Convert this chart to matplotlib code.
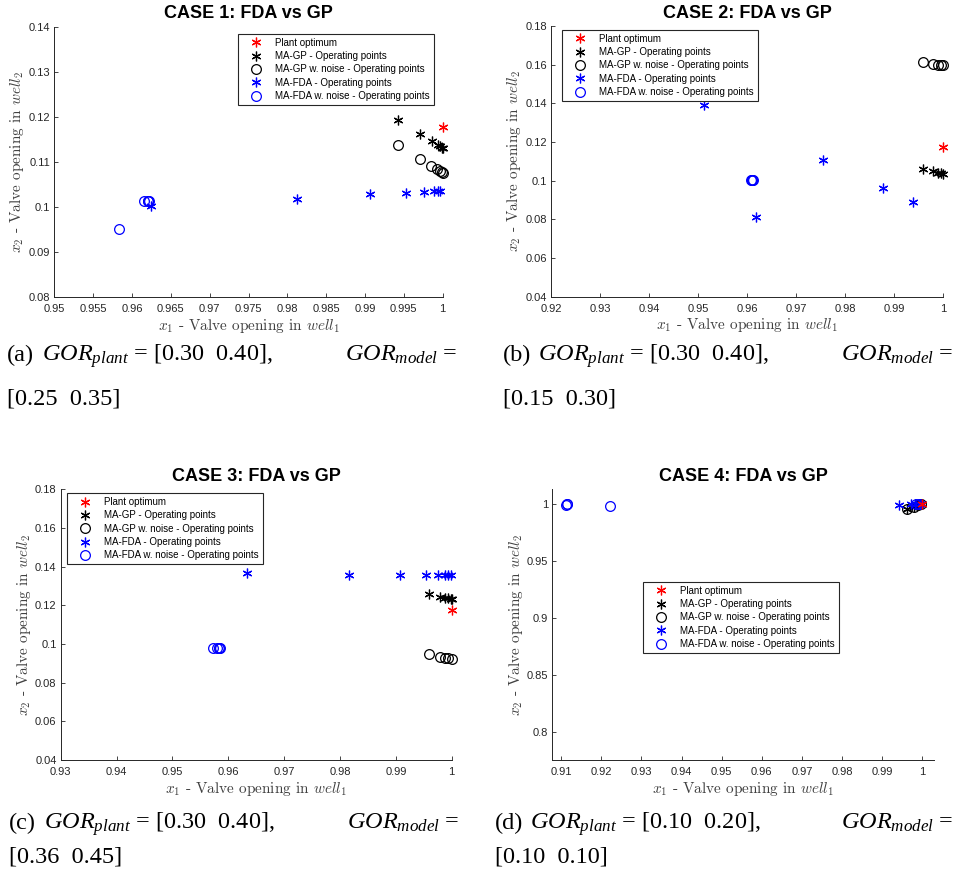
import matplotlib
matplotlib.use('Agg')
import matplotlib.pyplot as plt
from matplotlib.lines import Line2D

plt.rcParams['mathtext.rm'] = 'Liberation Serif'
plt.rcParams['mathtext.it'] = 'Liberation Serif:italic'
plt.rcParams['mathtext.bf'] = 'Liberation Serif:bold'

# ---- data ----
# case 1
c1_plant = ([1.0], [0.1177])
c1_gp_x = [0.9942, 0.9971, 0.9986, 0.9994, 0.9997, 0.9999, 1.0]
c1_gp_y = [0.1193, 0.1162, 0.1147, 0.1138, 0.1135, 0.1132, 0.1131]
c1_gpn_x = [0.9942, 0.9971, 0.9985, 0.9993, 0.9997, 0.9999, 1.0]
c1_gpn_y = [0.1138, 0.1107, 0.1092, 0.1084, 0.1080, 0.1077, 0.1076]
c1_fda_x = [0.9625, 0.9812, 0.9906, 0.9953, 0.9976, 0.9989, 0.9994, 0.9997]
c1_fda_y = [0.1003, 0.1019, 0.1028, 0.1032, 0.1034, 0.1035, 0.1035, 0.1036]
c1_fdan_x = [0.9583, 0.9615, 0.9620, 0.9622, 0.9621]
c1_fdan_y = [0.0952, 0.1013, 0.1013, 0.1014, 0.1013]

# case 2
c2_plant = ([1.0], [0.1176])
c2_gp_x = [0.9960, 0.9980, 0.9990, 0.9995, 0.9999]
c2_gp_y = [0.1059, 0.1049, 0.1042, 0.1039, 0.1037]
c2_gpn_x = [0.9960, 0.9980, 0.9989, 0.9995, 1.0]
c2_gpn_y = [0.1612, 0.1604, 0.1599, 0.1597, 0.1596]
c2_fda_x = [0.9512, 0.9756, 0.9878, 0.9939, 0.9618]
c2_fda_y = [0.1393, 0.1106, 0.0964, 0.0892, 0.0814]
c2_fdan_x = [0.9609, 0.9611, 0.9610, 0.9612, 0.9610]
c2_fdan_y = [0.1003, 0.1006, 0.1001, 0.1004, 0.1004]

# case 3
c3_plant = ([1.0], [0.1176])
c3_gp_x = [0.9960, 0.9979, 0.9988, 0.9994, 0.9998, 1.0]
c3_gp_y = [0.1259, 0.1245, 0.1240, 0.1237, 0.1233, 0.1233]
c3_gpn_x = [0.9960, 0.9979, 0.9988, 0.9994, 1.0]
c3_gpn_y = [0.0949, 0.0935, 0.0929, 0.0926, 0.0924]
c3_fda_x = [0.9634, 0.9817, 0.9907, 0.9954, 0.9976, 0.9988, 0.9994, 0.9998]
c3_fda_y = [0.1369, 0.1359, 0.1356, 0.1355, 0.1355, 0.1355, 0.1355, 0.1355]
c3_fdan_x = [0.9573, 0.9579, 0.9583, 0.9585, 0.9584]
c3_fdan_y = [0.0981, 0.0981, 0.0981, 0.0981, 0.0980]

# case 4
c4_plant = ([1.0], [1.0])
c4_gp_x = [0.9961, 0.9979, 0.9989, 0.9996, 1.0]
c4_gp_y = [0.9953, 0.9977, 0.9988, 0.9997, 1.0]
c4_gpn_x = [0.9961, 0.9979, 0.9989, 0.9996]
c4_gpn_y = [0.9953, 0.9977, 0.9988, 0.9997]
c4_fda_x = [0.9941, 0.9971, 0.9983, 0.9991, 0.9996]
c4_fda_y = [0.9994, 1.0, 1.0, 1.0, 1.0]
c4_fdan_x = [0.9113, 0.9115, 0.9114, 0.9223, 0.9985, 0.9993]
c4_fdan_y = [0.9996, 0.9998, 0.9997, 0.9980, 0.9997, 0.9999]

titles = ['CASE 1: FDA vs GP', 'CASE 2: FDA vs GP', 'CASE 3: FDA vs GP', 'CASE 4: FDA vs GP']
labels = ['Plant optimum', 'MA-GP - Operating points', 'MA-GP w. noise - Operating points',
          'MA-FDA - Operating points', 'MA-FDA w. noise - Operating points']
xlims = [(0.95, 1.0), (0.92, 1.0), (0.93, 1.0), (0.9078, 1.003)]
ylims = [(0.08, 0.14), (0.04, 0.18), (0.04, 0.18), (0.7755, 1.013)]
xticks = [[0.95, 0.955, 0.96, 0.965, 0.97, 0.975, 0.98, 0.985, 0.99, 0.995, 1],
          [0.92, 0.93, 0.94, 0.95, 0.96, 0.97, 0.98, 0.99, 1],
          [0.93, 0.94, 0.95, 0.96, 0.97, 0.98, 0.99, 1],
          [0.91, 0.92, 0.93, 0.94, 0.95, 0.96, 0.97, 0.98, 0.99, 1]]
yticks = [[0.08, 0.09, 0.1, 0.11, 0.12, 0.13, 0.14],
          [0.04, 0.06, 0.08, 0.1, 0.12, 0.14, 0.16, 0.18],
          [0.04, 0.06, 0.08, 0.1, 0.12, 0.14, 0.16, 0.18],
          [0.8, 0.85, 0.9, 0.95, 1]]
captions = [('(a)', '[0.30  0.40],', '[0.25  0.35]'),
            ('(b)', '[0.30  0.40],', '[0.15  0.30]'),
            ('(c)', '[0.30  0.40],', '[0.36  0.45]'),
            ('(d)', '[0.10  0.20],', '[0.10  0.10]')]

cases = [
    (c1_plant, c1_gp_x, c1_gp_y, c1_gpn_x, c1_gpn_y, c1_fda_x, c1_fda_y, c1_fdan_x, c1_fdan_y),
    (c2_plant, c2_gp_x, c2_gp_y, c2_gpn_x, c2_gpn_y, c2_fda_x, c2_fda_y, c2_fdan_x, c2_fdan_y),
    (c3_plant, c3_gp_x, c3_gp_y, c3_gpn_x, c3_gpn_y, c3_fda_x, c3_fda_y, c3_fdan_x, c3_fdan_y),
    (c4_plant, c4_gp_x, c4_gp_y, c4_gpn_x, c4_gpn_y, c4_fda_x, c4_fda_y, c4_fdan_x, c4_fdan_y),
]

W, H = 959, 876
# axes boxes in pixels: left, top, right, bottom
boxes = [(54.3, 26.7, 442.7, 297.3), (551, 26, 943, 296.7),
         (60.7, 489.3, 451.7, 760), (552.3, 489.3, 934.3, 760)]
# legend upper-left corners in pixels
leg_pos = [(238, 34), (561.7, 30), (66.7, 493.3), (642.7, 582)]
# caption: tag x, body x, right x, line-1 baseline, line-2 baseline
cap_pos = [(7, 41.7, 457, 361, 405), (503, 537.7, 953, 361, 405),
           (9, 43.7, 459, 829, 862), (495, 529.7, 953, 829, 862)]

AST = (6, 2, 0)   # matlab-like asterisk
grey = '#262626'
ms = 7
cap_kw = dict(family='Liberation Serif', math_fontfamily='custom', fontsize=17.5, va='baseline')

fig = plt.figure(figsize=(W / 100, H / 100), dpi=100)

for i, data in enumerate(cases):
    plant, gx, gy, gnx, gny, fx, fy, fnx, fny = data
    l, t, r, b = boxes[i]
    ax = fig.add_axes([l / W, 1 - b / H, (r - l) / W, (b - t) / H])
    mk = dict(ls='none', ms=ms, mew=0.9, clip_on=False)
    ax.plot(gx, gy, marker=AST, mec='k', **mk)
    ax.plot(gnx, gny, marker='o', mfc='none', mec='k', **mk)
    ax.plot(fx, fy, marker=AST, mec='b', **mk)
    ax.plot(fnx, fny, marker='o', mfc='none', mec='b', **mk)
    ax.plot(plant[0], plant[1], marker=AST, mec='r', zorder=5, **mk)

    ax.set_xlim(*xlims[i])
    ax.set_ylim(*ylims[i])
    ax.set_xticks(xticks[i])
    ax.set_yticks(yticks[i])
    ax.set_xticklabels(['%g' % v for v in xticks[i]], family='Liberation Sans', fontsize=8, color=grey)
    ax.set_yticklabels(['%g' % v for v in yticks[i]], family='Liberation Sans', fontsize=8, color=grey)
    ax.tick_params(axis='x', direction='in', length=3, width=0.6, color=grey, pad=5)
    ax.tick_params(axis='y', direction='in', length=3, width=0.6, color=grey, pad=3)
    for s in ['top', 'right']:
        ax.spines[s].set_visible(False)
    for s in ['left', 'bottom']:
        ax.spines[s].set_color(grey)
        ax.spines[s].set_linewidth(0.7)

    ax.set_title(titles[i], fontsize=13, fontweight='bold', family='Liberation Sans', pad=6)
    ax.set_xlabel(r'$x_1$ - Valve opening in $well_1$', family='cmr10', math_fontfamily='cm',
                  fontsize=11, color='#404040', labelpad=2)
    ax.set_ylabel(r'$x_2$ - Valve opening in $well_2$', family='cmr10', math_fontfamily='cm',
                  fontsize=11, color='#404040', labelpad=1.5)

    hk = dict(ls='none', ms=ms, mew=0.9)
    handles = [
        Line2D([], [], marker=AST, mec='r', **hk),
        Line2D([], [], marker=AST, mec='k', **hk),
        Line2D([], [], marker='o', mfc='none', mec='k', **hk),
        Line2D([], [], marker=AST, mec='b', **hk),
        Line2D([], [], marker='o', mfc='none', mec='b', **hk),
    ]
    lx, ly = leg_pos[i]
    leg = ax.legend(handles, labels, loc='upper left', bbox_to_anchor=(lx / W, 1 - ly / H),
                    bbox_transform=fig.transFigure, borderaxespad=0, fancybox=False,
                    framealpha=1, edgecolor=grey, prop={'family': 'Liberation Sans', 'size': 7},
                    handlelength=2.9, handletextpad=0.55, borderpad=0.4, labelspacing=0.34)
    leg.get_frame().set_linewidth(0.8)

    # caption under the panel
    tag, first, second = captions[i]
    tx, bx, rx, yb1, yb2 = cap_pos[i]
    fig.text(tx / W, 1 - yb1 / H, tag, ha='left', **cap_kw)
    fig.text(bx / W, 1 - yb1 / H, r'$GOR_{plant}$ = ' + first, ha='left', **cap_kw)
    fig.text(rx / W, 1 - yb1 / H, r'$GOR_{model}$ =', ha='right', **cap_kw)
    fig.text(tx / W, 1 - yb2 / H, second, ha='left', **cap_kw)

fig.savefig('out.png', dpi=100, facecolor='white')
